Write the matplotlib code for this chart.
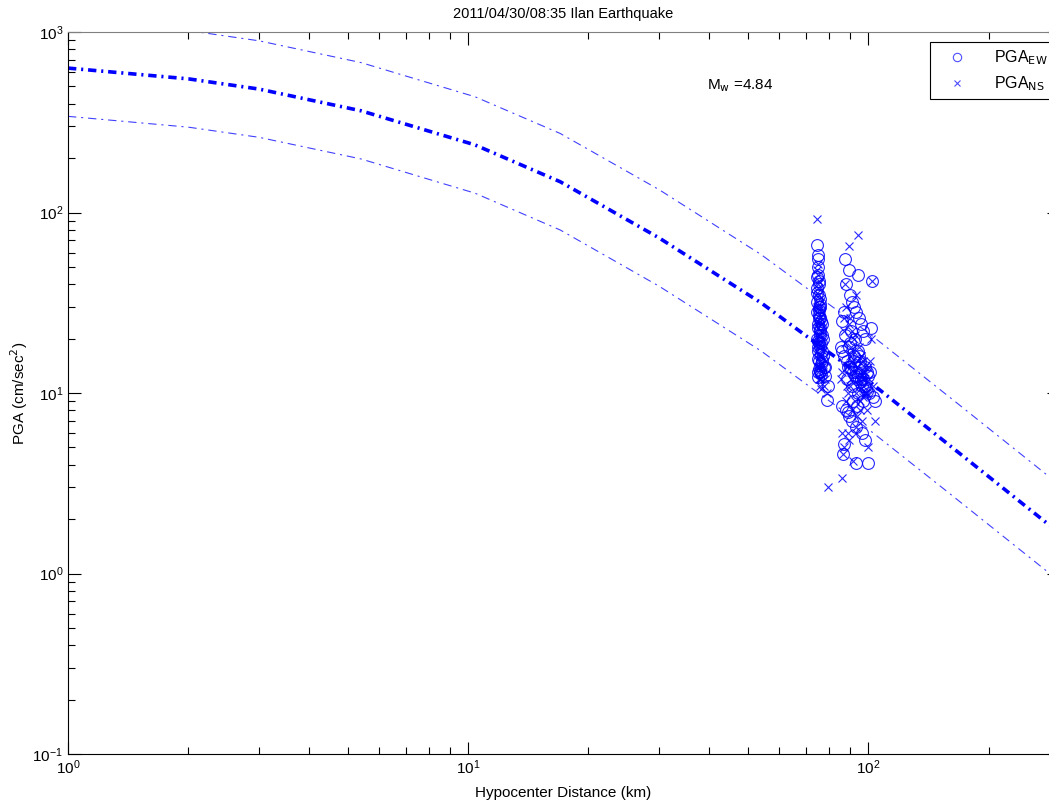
import matplotlib
matplotlib.use('Agg')
import matplotlib.pyplot as plt
from matplotlib.lines import Line2D

plt.rcParams['font.family'] = ['Liberation Sans', 'DejaVu Sans']
plt.rcParams['lines.scale_dashes'] = False

# attenuation curve (median and +/- one sigma)
curve_dist = [1, 2, 3, 5.4, 10.4, 17, 30, 54, 72, 100, 163, 300]
curve_mid = [631, 550, 483, 366, 237, 148, 72.4, 31.6, 19.8, 11.7, 4.95, 1.68]
curve_upper = [1167, 1018, 894, 677, 438, 274, 134, 58.5, 36.6, 21.6, 9.16, 3.11]
curve_lower = [341, 297, 261, 198, 128, 80, 39.1, 17.1, 10.7, 6.32, 2.68, 0.91]

# station observations: hypocentral distance (km) and PGA of both components
dist = [74.6, 74.8, 75.0, 75.1, 74.9, 75.3, 75.5, 74.7, 75.2, 75.6,
        75.8, 76.0, 74.5, 75.4, 75.9, 76.3, 74.8, 75.1, 75.7, 76.5,
        74.6, 75.0, 75.3, 75.9, 76.8, 77.2, 74.9, 75.5, 76.1, 77.5,
        75.2, 75.8, 76.4, 78.0, 75.0, 75.6, 76.2, 79.0, 79.4, 74.7,
        74.4, 75.2, 76.6, 77.0, 74.9, 75.7, 76.9, 75.4, 76.0, 74.6,
        77.8, 75.1, 76.3, 75.5, 74.8,
        87.6, 89.7, 94.4, 102, 86.6, 93.5, 100, 88, 90, 91,
        92, 93, 95, 96, 97, 98, 85.5, 86, 87, 88.5,
        89, 90.5, 91.5, 92.5, 94, 95.5, 97.5, 99, 100.5, 103,
        104, 86.2, 88.2, 89.5, 91, 93, 96.5, 98.5, 101, 85.8,
        87.5, 90, 92, 94.8, 97, 99.5, 86.8, 89, 91.8, 95,
        88.8, 90.2, 91.2, 92.2, 93.2, 94.2, 95.2, 96.2, 97.2, 98.2,
        89.4, 90.8, 92.8, 94.6, 96.8, 99.2, 101.5, 87.2, 93.8, 100.2]
pga_ew = [66, 58, 55, 50, 45, 42, 40, 38, 35, 33,
          31, 30, 28, 27, 26, 25, 24, 23, 22, 21,
          20, 19.5, 19, 18, 17, 16, 15.5, 15, 14.5, 14,
          13.5, 13, 12.8, 12.5, 12.2, 13.2, 16.5, 9.1, 11, 36,
          32, 29, 24, 20, 18, 21, 15, 26, 23, 44,
          14, 17, 19, 30, 13,
          55, 48, 45, 42, 4.6, 4.1, 4.1, 40, 35, 32,
          30, 28, 26, 24, 22, 20, 18, 17, 16, 15,
          14, 13.5, 13, 12.5, 12, 11.5, 11, 10.5, 10, 9.5,
          9, 8.5, 8, 7.5, 7, 6.5, 6, 5.5, 13, 25,
          21, 19, 15, 14, 12, 10.2, 5.2, 7.8, 9, 16,
          12, 14, 11, 16, 13, 10, 15, 12, 9, 14,
          18, 22, 20, 17, 11, 13, 23, 28, 8.5, 12.5]
pga_ns = [92, 45, 40, 52, 38, 30, 35, 28, 42, 25,
          33, 22, 30, 20, 26, 18, 24, 21, 16, 28,
          17, 19, 14, 15, 22, 13, 18, 12, 16, 11,
          14, 12, 10.5, 15, 13, 11, 12, 10, 3.0, 25,
          36, 27, 20, 17, 23, 19, 14, 31, 21, 48,
          12, 15, 24, 29, 14,
          40, 65, 75, 42, 4.6, 6, 5, 30, 26, 22,
          20, 35, 18, 16, 15, 14, 12, 13, 22, 11,
          10, 12, 17, 9, 14, 8, 13, 10, 12, 11,
          7, 6, 9, 5.5, 8, 6.5, 7, 10, 15, 3.4,
          19, 16, 13, 11, 9.5, 8, 5, 6, 4.2, 12,
          14, 11, 15, 13, 10, 12, 9, 16, 11, 13,
          24, 18, 21, 15, 12, 10, 20, 26, 7.5, 14]

fig = plt.figure(figsize=(10.49, 8.08), dpi=100)
ax = fig.add_axes([68 / 1049, 54 / 808, 991 / 1049, 722 / 808])

dd = (6, 3.5, 1.5, 3.5)
ax.plot(curve_dist, curve_upper, color='#0000ff', lw=0.8, alpha=0.75, dashes=dd)
ax.plot(curve_dist, curve_lower, color='#0000ff', lw=0.8, alpha=0.75, dashes=dd)

ax.plot(dist, pga_ew, 'o', mfc='none', mec='#0000ff', ms=8.5, mew=0.8, alpha=0.85)
ax.plot(dist, pga_ns, 'x', color='#0000ff', ms=6, mew=0.8, alpha=0.85)
ax.plot(curve_dist, curve_mid, color='#0000ff', lw=2.6, dashes=dd)

ax.set_xscale('log')
ax.set_yscale('log')
ax.set_xlim(1, 300)
ax.set_ylim(0.1, 1000)

ax.tick_params(which='both', direction='in', top=True, right=True, labelsize=11)
ax.tick_params(which='major', length=9, width=0.8)
ax.tick_params(which='minor', length=5, width=0.8)
ax.spines['top'].set_color('#808080')

ax.set_title('2011/04/30/08:35 Ilan Earthquake', fontsize=10.5, pad=10)
ax.set_xlabel('Hypocenter Distance (km)', fontsize=11, labelpad=6)
ax.set_ylabel('PGA (cm/sec$^2$)', fontsize=11, labelpad=2)

fig.text(707 / 1049, 1 - 86 / 808, r'M$_\mathrm{w}$ =4.84', fontsize=11, va='center')

handles = [Line2D([], [], ls='none', marker='o', mfc='none', mec='#0000ff', ms=6, mew=0.8, alpha=0.7),
           Line2D([], [], ls='none', marker='x', color='#0000ff', ms=5, mew=0.8, alpha=0.7)]
leg = fig.legend(handles, [r'PGA$_\mathrm{EW}$', r'PGA$_\mathrm{NS}$'], loc='upper left',
                 bbox_to_anchor=(930 / 1049, 1 - 42 / 808), fontsize=11.5,
                 fancybox=False, framealpha=1, edgecolor='black',
                 borderpad=0.4, handlelength=2.6, handletextpad=1.0,
                 borderaxespad=0, labelspacing=0.45)
leg.get_frame().set_linewidth(0.8)

fig.savefig('out.png', dpi=100)
